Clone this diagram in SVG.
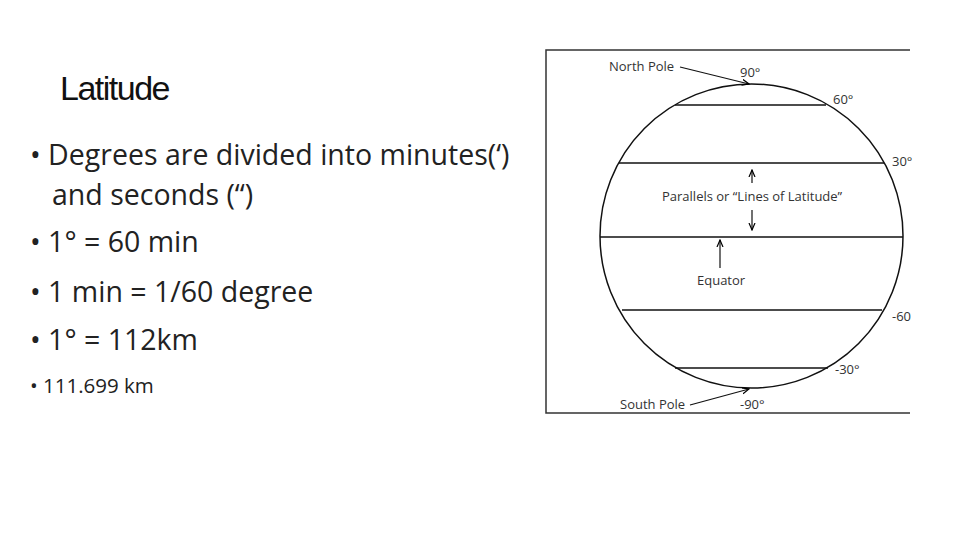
<svg xmlns="http://www.w3.org/2000/svg" width="960" height="540" viewBox="0 0 960 540">
<defs><marker id="ah" markerWidth="8" markerHeight="8" refX="7" refY="4" orient="auto" markerUnits="userSpaceOnUse"><path d="M0,1 L7,4 L0,7" fill="none" stroke="#000" stroke-width="1.2"/></marker></defs>
<style>
.b{font-family:"Open Sans",sans-serif;font-size:28.5px;fill:#222}
.s{font-family:"Open Sans",sans-serif;font-size:13px;fill:#333}
.l{stroke:#111;stroke-width:1.5;fill:none}
.a{stroke:#111;stroke-width:1.2;fill:none;marker-end:url(#ah)}
</style>
<rect width="960" height="540" fill="#fff"/>
<g id="text">
<text x="60" y="100" font-family="Liberation Sans,sans-serif" font-size="34" letter-spacing="-1.5" fill="#111">Latitude</text>
<text class="b" x="30" y="165">• Degrees are divided into minutes(‘)</text>
<text class="b" x="52" y="205">and seconds (“)</text>
<text class="b" x="30" y="252">• 1° = 60 min</text>
<text class="b" x="30" y="302">• 1 min = 1/60 degree</text>
<text class="b" x="30" y="350">• 1° = 112km</text>
<text class="b" x="30" y="393" style="font-size:20.5px">• 111.699 km</text>
</g>
<g id="figure">
<path d="M910,50 H546 V413 H910" stroke="#333" stroke-width="1.5" fill="none"/>
<ellipse cx="751.5" cy="236" rx="151.5" ry="152" class="l"/>
<line x1="675" y1="105" x2="826" y2="105" class="l"/>
<line x1="619" y1="163" x2="884" y2="163" class="l"/>
<line x1="600" y1="237" x2="903" y2="237" class="l"/>
<line x1="622" y1="310" x2="882" y2="310" class="l"/>
<line x1="675" y1="368" x2="828" y2="368" class="l"/>
</g>
<g id="connectors">
<line x1="680" y1="67" x2="749" y2="84" class="a"/>
<line x1="690" y1="405" x2="749" y2="389" class="a"/>
<line x1="752" y1="183" x2="752" y2="170" class="a"/>
<line x1="752" y1="210" x2="752" y2="230" class="a"/>
<line x1="720" y1="268" x2="720" y2="240" class="a"/>
</g>
<g id="labels">
<text class="s" x="609" y="71">North Pole</text>
<text class="s" x="740" y="77">90°</text>
<text class="s" x="833" y="104">60°</text>
<text class="s" x="892" y="166">30°</text>
<text class="s" x="662" y="201">Parallels or “Lines of Latitude”</text>
<text class="s" x="697" y="285">Equator</text>
<text class="s" x="892" y="321">-60</text>
<text class="s" x="835" y="374">-30°</text>
<text class="s" x="620" y="409">South Pole</text>
<text class="s" x="740" y="409">-90°</text>
</g>
</svg>
